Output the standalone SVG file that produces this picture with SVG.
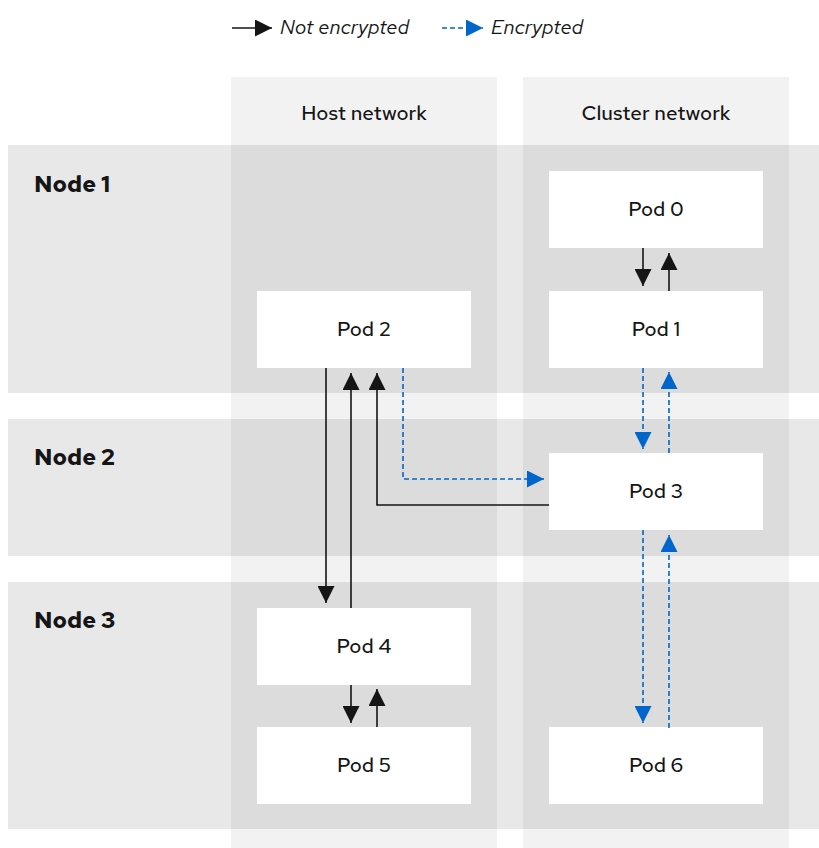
<svg xmlns="http://www.w3.org/2000/svg" width="819" height="848" viewBox="0 0 819 848">
<style>
text{font-family:"Red Hat Text",Inter,"Liberation Sans",sans-serif;fill:#151515}
.col{fill:#f2f2f2}
.band{fill:#e8e8e8}
.cross{fill:#dcdcdc}
.pod{fill:#fff}
.pl{font-size:20.5px;font-weight:500;text-anchor:middle;dominant-baseline:central}
.nl{font-size:23.5px;font-weight:bold}
.hl{font-size:20.5px;font-weight:500;text-anchor:middle}
.lg{font-size:20.5px;font-style:italic}
.k{stroke:#151515;stroke-width:1.6;fill:none}
.b{stroke:#0066cc;stroke-width:1.6;fill:none;stroke-dasharray:5 3}
</style>
<defs>
<marker id="ak" viewBox="0 0 10 10" refX="10" refY="5" markerWidth="17" markerHeight="17" markerUnits="userSpaceOnUse" orient="auto"><path d="M0,0 L10,5 L0,10 z" fill="#151515"/></marker>
<marker id="ab" viewBox="0 0 10 10" refX="10" refY="5" markerWidth="17" markerHeight="17" markerUnits="userSpaceOnUse" orient="auto"><path d="M0,0 L10,5 L0,10 z" fill="#0066cc"/></marker>
</defs>
<rect width="819" height="848" fill="#fff"/>
<g id="legend">
<line class="k" x1="232" y1="28" x2="272" y2="28" marker-end="url(#ak)"/>
<text class="lg" x="280" y="34">Not encrypted</text>
<line class="b" x1="442" y1="28" x2="483" y2="28" marker-end="url(#ab)"/>
<text class="lg" x="491" y="34">Encrypted</text>
</g>
<g id="columns">
<rect class="col" x="231" y="77" width="266" height="771"/>
<rect class="col" x="523" y="77" width="266" height="771"/>
<text class="hl" x="364" y="120">Host network</text>
<text class="hl" x="656" y="120">Cluster network</text>
</g>
<g id="bands">
<rect class="band" x="8" y="145" width="811" height="248"/>
<rect class="band" x="8" y="419" width="811" height="137"/>
<rect class="band" x="8" y="582" width="811" height="247"/>
<rect class="cross" x="231" y="145" width="266" height="248"/>
<rect class="cross" x="523" y="145" width="266" height="248"/>
<rect class="cross" x="231" y="419" width="266" height="137"/>
<rect class="cross" x="523" y="419" width="266" height="137"/>
<rect class="cross" x="231" y="582" width="266" height="247"/>
<rect class="cross" x="523" y="582" width="266" height="247"/>
<text class="nl" x="34" y="192">Node 1</text>
<text class="nl" x="34" y="465">Node 2</text>
<text class="nl" x="34" y="628">Node 3</text>
</g>
<g id="pod0"><rect class="pod" x="549" y="171" width="214" height="77"/><text class="pl" x="656" y="208">Pod 0</text></g>
<g id="pod1"><rect class="pod" x="549" y="291" width="214" height="77"/><text class="pl" x="656" y="328">Pod 1</text></g>
<g id="pod2"><rect class="pod" x="257" y="291" width="214" height="77"/><text class="pl" x="364" y="328">Pod 2</text></g>
<g id="pod3"><rect class="pod" x="549" y="453" width="214" height="77"/><text class="pl" x="656" y="490">Pod 3</text></g>
<g id="pod4"><rect class="pod" x="257" y="608" width="214" height="77"/><text class="pl" x="364" y="645">Pod 4</text></g>
<g id="pod5"><rect class="pod" x="257" y="727" width="214" height="77"/><text class="pl" x="364" y="764">Pod 5</text></g>
<g id="pod6"><rect class="pod" x="549" y="727" width="214" height="77"/><text class="pl" x="656" y="764">Pod 6</text></g>
<g id="connectors">
<line class="k" x1="643" y1="248" x2="643" y2="286" marker-end="url(#ak)"/>
<line class="k" x1="669" y1="291" x2="669" y2="253" marker-end="url(#ak)"/>
<line class="k" x1="326" y1="368" x2="326" y2="603" marker-end="url(#ak)"/>
<line class="k" x1="351" y1="608" x2="351" y2="373" marker-end="url(#ak)"/>
<path class="k" d="M549,505 H377 V373" marker-end="url(#ak)"/>
<path class="b" d="M403,368 V479 H544" marker-end="url(#ab)"/>
<line class="b" x1="643" y1="368" x2="643" y2="449" marker-end="url(#ab)"/>
<line class="b" x1="669" y1="453" x2="669" y2="372" marker-end="url(#ab)"/>
<line class="b" x1="643" y1="530" x2="643" y2="723" marker-end="url(#ab)"/>
<line class="b" x1="669" y1="728" x2="669" y2="535" marker-end="url(#ab)"/>
<line class="k" x1="351" y1="685" x2="351" y2="723" marker-end="url(#ak)"/>
<line class="k" x1="377" y1="727" x2="377" y2="689" marker-end="url(#ak)"/>
</g>
</svg>
